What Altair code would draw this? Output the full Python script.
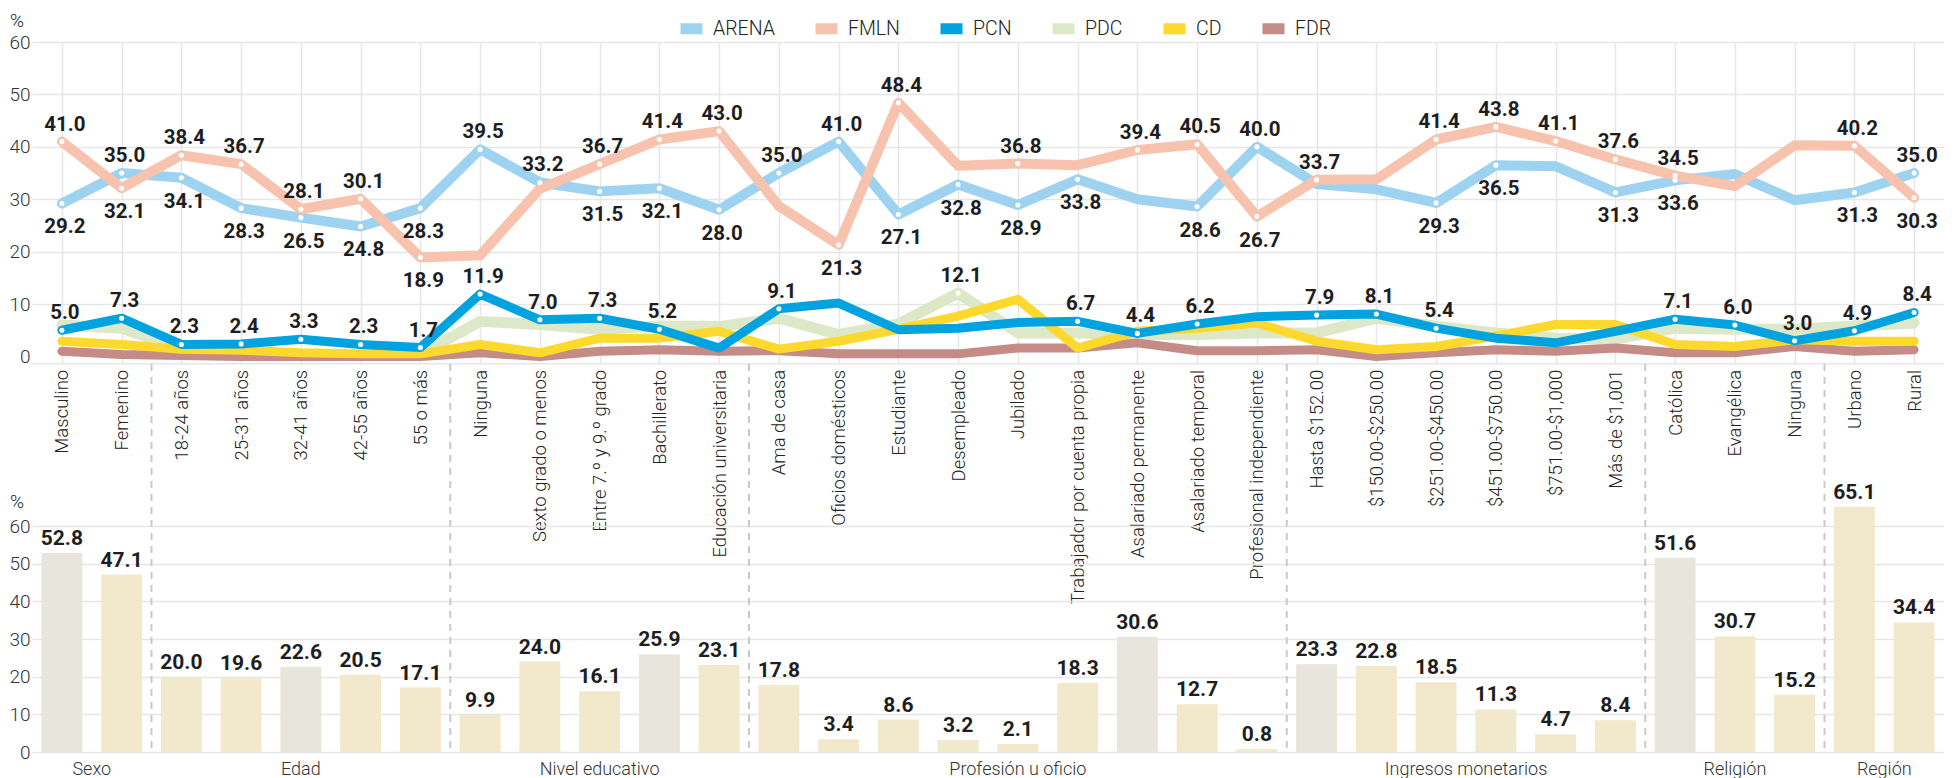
import altair as alt
import pandas as pd

# ---------------- data ----------------
categories = [
    "Masculino", "Femenino",
    "18-24 años", "25-31 años", "32-41 años", "42-55 años", "55 o más",
    "Ninguna", "Sexto grado o menos", "Entre 7.º y 9.º grado", "Bachillerato", "Educación universitaria",
    "Ama de casa", "Oficios domésticos", "Estudiante", "Desempleado", "Jubilado",
    "Trabajador por cuenta propia", "Asalariado permanente", "Asalariado temporal", "Profesional independiente",
    "Hasta $152.00", "$150.00-$250.00", "$251.00-$450.00", "$451.00-$750.00", "$751.00-$1,000", "Más de $1,001",
    "Católica", "Evangélica", "Ninguna\u200b",
    "Urbano", "Rural",
]
group_names = ["Sexo", "Edad", "Nivel educativo", "Profesión u oficio", "Ingresos monetarios", "Religión", "Región"]
group_sizes = [2, 5, 5, 9, 6, 3, 2]

bar_values = [52.8, 47.1, 20.0, 19.6, 22.6, 20.5, 17.1, 9.9, 24.0, 16.1, 25.9, 23.1,
              17.8, 3.4, 8.6, 3.2, 2.1, 18.3, 30.6, 12.7, 0.8,
              23.3, 22.8, 18.5, 11.3, 4.7, 8.4, 51.6, 30.7, 15.2, 65.1, 34.4]
bar_highlight = ["Masculino", "32-41 años", "Bachillerato", "Asalariado permanente", "Hasta $152.00", "Católica"]

parties = ["ARENA", "FMLN", "PCN", "PDC", "CD", "FDR"]
arena = [29.2, 35.0, 34.1, 28.3, 26.5, 24.8, 28.3, 39.5, 33.2, 31.5, 32.1, 28.0,
         35.0, 41.0, 27.1, 32.8, 28.9, 33.8, 30.0, 28.6, 40.0,
         32.9, 31.9, 29.3, 36.5, 36.3, 31.3, 33.6, 34.8, 29.8, 31.3, 35.0]
fmln = [41.0, 32.1, 38.4, 36.7, 28.1, 30.1, 18.9, 19.3, 32.0, 36.7, 41.4, 43.0,
        28.7, 21.3, 48.4, 36.4, 36.8, 36.5, 39.4, 40.5, 26.7,
        33.7, 33.8, 41.4, 43.8, 41.1, 37.6, 34.5, 32.5, 40.3, 40.2, 30.3]
pcn = [5.0, 7.3, 2.3, 2.4, 3.3, 2.3, 1.7, 11.9, 7.0, 7.3, 5.2, 1.6,
       9.1, 10.2, 5.1, 5.4, 6.5, 6.7, 4.4, 6.2, 7.6,
       7.9, 8.1, 5.4, 3.5, 2.6, 4.8, 7.1, 6.0, 3.0, 4.9, 8.4]
pdc = [6.0, 5.4, 1.5, 0.3, 0.2, 0.2, 0.4, 6.7, 6.1, 5.2, 5.8, 5.7,
       7.3, 4.2, 6.2, 12.1, 4.5, 4.5, 4.2, 4.2, 4.5,
       4.5, 7.3, 5.8, 4.5, 3.5, 3.3, 5.4, 5.2, 5.2, 5.8, 6.4]
cd = [2.9, 2.3, 1.4, 1.2, 0.7, 0.5, 0.5, 2.3, 0.7, 3.5, 3.5, 4.8,
      1.4, 2.9, 5.2, 7.7, 10.9, 1.6, 4.8, 5.4, 6.4,
      2.9, 1.3, 1.9, 3.9, 6.1, 6.1, 2.3, 1.9, 3.2, 2.9, 2.9]
fdr = [1.0, 0.4, 0.2, 0.0, 0.0, 0.0, 0.0, 0.7, 0.0, 1.0, 1.3, 1.0,
       1.1, 0.5, 0.5, 0.5, 1.6, 1.6, 2.6, 1.1, 1.1,
       1.3, 0.0, 0.7, 1.3, 1.0, 1.6, 0.7, 0.7, 1.9, 1.0, 1.3]

# which points carry a printed value (a = above, b = below)
arena_lbl = ["b", "a", "b", "b", "b", "b", "b", "a", "a", "b", "b", "b",
             "a", "a", "b", "b", "b", "b", "", "b", "a",
             "", "", "b", "b", "", "b", "b", "", "", "b", "a"]
fmln_lbl = ["a", "b", "a", "a", "a", "a", "b", "", "", "a", "a", "a",
            "", "b", "a", "", "a", "", "a", "a", "b",
            "a", "", "a", "a", "a", "a", "a", "", "", "a", "b"]
pcn_lbl = ["a"] * 11 + [""] + ["a"] + [""] * 4 + ["a", "a", "a"] + [""] + ["a", "a", "a"] + [""] * 3 + ["a"] * 5
pdc_lbl = [""] * 15 + ["a"] + [""] * 16
cd_lbl = [""] * 32
fdr_lbl = [""] * 32

# ---------------- styling ----------------
FONT = "Roboto"
W = 1912
H_TOP = 321.3
H_BOT = 226
GAP = 162
party_colors = ["#9dd3f0", "#f8c3ae", "#00a3e0", "#dde8c9", "#fcd92c", "#c48b87"]
stroke_w = {"ARENA": 10, "FMLN": 10, "PCN": 9, "PDC": 11, "CD": 9, "FDR": 9}
draw_order = ["PDC", "FDR", "CD", "PCN", "ARENA", "FMLN"]
GRID = "#e6e6e6"
TXT = "#1e1e1e"
BAR_HI = "#e7e5dc"
BAR_LO = "#f2e8cc"

series = {"ARENA": arena, "FMLN": fmln, "PCN": pcn, "PDC": pdc, "CD": cd, "FDR": fdr}
labels = {"ARENA": arena_lbl, "FMLN": fmln_lbl, "PCN": pcn_lbl, "PDC": pdc_lbl, "CD": cd_lbl, "FDR": fdr_lbl}

rows = []
for p in parties:
    for i, c in enumerate(categories):
        rows.append({"party": p, "cat": c, "value": series[p][i], "pos": labels[p][i]})
lines_df = pd.DataFrame(rows)

bars_df = pd.DataFrame({
    "cat": categories,
    "value": bar_values,
    "hl": ["si" if c in bar_highlight else "no" for c in categories],
})

bounds_ = []
acc = 0
mids = []
for n in group_sizes:
    mids.append(acc + n / 2)
    acc += n
    bounds_.append(acc)
groups_df = pd.DataFrame({"group": group_names, "mid": mids})
seps_df = pd.DataFrame({"b": bounds_[:-1]})

# ---------------- top chart ----------------
x_top = alt.X(
    "cat:N", sort=categories,
    scale=alt.Scale(type="point", padding=0.5),
    axis=alt.Axis(title=None, labelAngle=-90, labelFontSize=18.5, labelColor="#222", labelFontWeight=300,
                  labelPadding=6, labelLimit=400, labelOverlap=False, ticks=False,
                  domain=True, domainColor=GRID, domainWidth=1.5,
                  grid=True, gridColor=GRID, gridWidth=1.5),
)
y_top = alt.Y(
    "value:Q",
    scale=alt.Scale(domain=[-1.3, 60], nice=False, zero=False),
    axis=alt.Axis(values=[0, 10, 20, 30, 40, 50, 60], title="%", titleAngle=0, titleAlign="left",
                  titleBaseline="middle", titleX=-22.5, titleY=-22, titleFontSize=19,
                  titleFontWeight=300, titleColor="#222",
                  labelFontSize=19, labelColor="#333", labelFontWeight=300, labelPadding=2,
                  labelOverlap=False, ticks=False, domain=False,
                  grid=True, gridColor=GRID, gridWidth=1.5,
                  gridOpacity={"condition": {"test": "datum.value === 0", "value": 0}, "value": 1}),
)
color_scale = alt.Scale(domain=parties, range=party_colors)
legend = alt.Legend(title=None, orient="none", legendX=643, legendY=-30, direction="horizontal",
                    symbolType="stroke", symbolSize=484, symbolStrokeWidth=11, symbolOpacity=1,
                    labelFontSize=19.5, labelColor="#222", labelFont=FONT, labelFontWeight=300,
                    labelOffset=5, columnPadding=18, padding=0)

base_top = alt.Chart(lines_df).encode(x=x_top, y=y_top)
line_layers = []
for p in draw_order:
    line_layers.append(
        base_top.transform_filter(alt.datum.party == p)
        .mark_line(strokeWidth=stroke_w[p], strokeJoin="round", strokeCap="round")
        .encode(color=alt.Color("party:N", scale=color_scale, legend=legend))
    )

dots = base_top.transform_filter(alt.datum.pos != "").mark_circle(color="white", size=26, opacity=1)
lab_a = base_top.transform_filter(alt.datum.pos == "a").mark_text(
    dy=-11, dx=3, baseline="alphabetic", fontSize=20.5, fontWeight="bold", font=FONT, color=TXT
).encode(text=alt.Text("value:Q", format=".1f"))
lab_b = base_top.transform_filter(alt.datum.pos == "b").mark_text(
    dy=14, dx=3, baseline="top", fontSize=20.5, fontWeight="bold", font=FONT, color=TXT
).encode(text=alt.Text("value:Q", format=".1f"))

top = alt.layer(*line_layers, dots, lab_a, lab_b).properties(width=W, height=H_TOP)

# ---------------- bottom chart ----------------
x_bot = alt.X("cat:N", sort=categories,
              scale=alt.Scale(type="band", paddingInner=0.315, paddingOuter=0.1575), axis=None)
y_bot = alt.Y(
    "value:Q", scale=alt.Scale(domain=[0, 60], nice=False),
    axis=alt.Axis(values=[0, 10, 20, 30, 40, 50, 60], title="%", titleAngle=0, titleAlign="left",
                  titleBaseline="middle", titleX=-22.5, titleY=-25, titleFontSize=19,
                  titleFontWeight=300, titleColor="#222",
                  labelFontSize=19, labelColor="#333", labelFontWeight=300, labelPadding=2,
                  labelOverlap=False, ticks=False, domain=False,
                  grid=True, gridColor=GRID, gridWidth=1.5),
)
base_bot = alt.Chart(bars_df).encode(x=x_bot, y=y_bot)
bars = base_bot.mark_bar().encode(
    color=alt.condition(alt.datum.hl == "si", alt.value(BAR_HI), alt.value(BAR_LO)),
)
bar_text = base_bot.mark_text(
    dy=-8, baseline="alphabetic", fontSize=21, fontWeight="bold", font=FONT, color=TXT
).encode(text=alt.Text("value:Q", format=".1f"))

qx = alt.Scale(domain=[0, len(categories)], nice=False, zero=False)
seps = alt.Chart(seps_df).mark_rule(color="#c9c9c9", strokeWidth=2, strokeDash=[7, 6]).encode(
    x=alt.X("b:Q", scale=qx, axis=None),
    y=alt.value(-GAP), y2=alt.value(H_BOT),
)
glabels = alt.Chart(groups_df).mark_text(fontSize=18, font=FONT, fontWeight=300, color="#333",
                                         baseline="middle").encode(
    x=alt.X("mid:Q", scale=qx, axis=None),
    y=alt.value(H_BOT + 18),
    text="group:N",
)
bottom = alt.layer(bars, bar_text, seps, glabels).resolve_scale(x="independent").properties(width=W, height=H_BOT)

chart = (
    alt.vconcat(top, bottom, spacing=GAP, bounds="flush")
    .resolve_scale(color="independent")
    .properties(padding={"left": 0, "right": 0, "top": 3, "bottom": 0})
    .configure(font=FONT)
    .configure_view(stroke=None)
    .configure_axis(labelFont=FONT, titleFont=FONT)
    .configure_legend(labelFont=FONT)
)

chart.save("out.html", embed_options={"renderer": "svg", "actions": False})
